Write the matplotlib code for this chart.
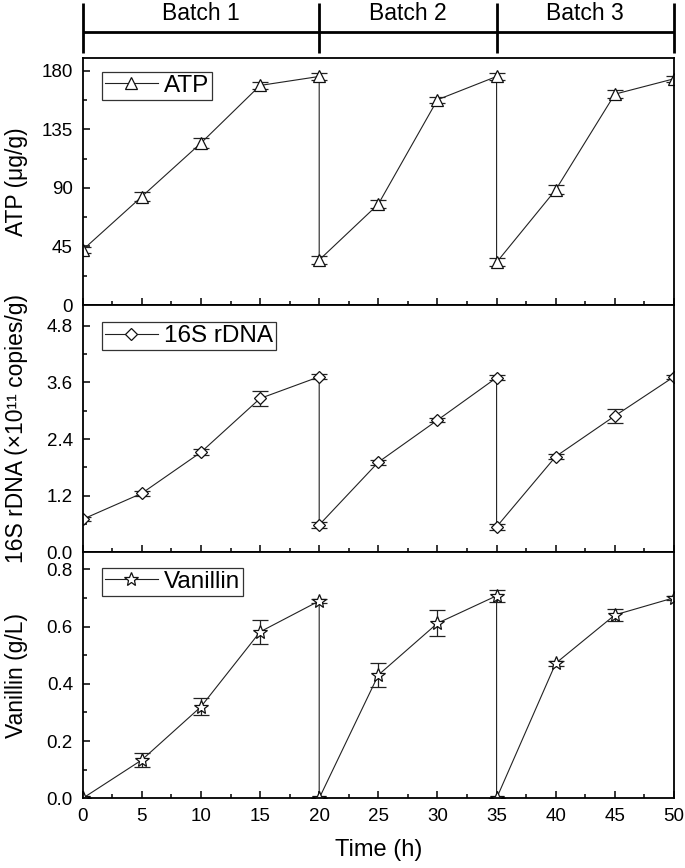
import numpy as np
import matplotlib
matplotlib.use("Agg")
import matplotlib.pyplot as plt
from matplotlib.ticker import MultipleLocator, FormatStrFormatter

plt.rcParams['font.family'] = ['Liberation Sans', 'DejaVu Sans']

# sampling times (h); 20 and 35 appear twice (end of batch / start of next)
time_h = [0, 5, 10, 15, 20, 20, 25, 30, 35, 35, 40, 45, 50]

atp = [42.3, 83.3, 124.4, 168.7, 175.6, 34.6, 77.5, 157.7, 175.6, 32.8, 88.5, 162.0, 173.8]
atp_err = [2.5, 3.5, 4.0, 3.0, 2.5, 3.0, 3.0, 2.5, 2.5, 3.0, 3.5, 3.0, 2.5]

rdna = [0.70, 1.25, 2.12, 3.26, 3.72, 0.58, 1.91, 2.80, 3.70, 0.54, 2.03, 2.89, 3.72]
rdna_err = [0.04, 0.05, 0.06, 0.15, 0.05, 0.06, 0.05, 0.04, 0.05, 0.06, 0.05, 0.14, 0.04]

vanillin = [0.0, 0.134, 0.320, 0.582, 0.690, 0.0, 0.431, 0.612, 0.708, 0.0, 0.472, 0.641, 0.701]
vanillin_err = [0.0, 0.026, 0.029, 0.042, 0.008, 0.0, 0.041, 0.045, 0.020, 0.0, 0.008, 0.020, 0.006]

batch_edges = [0, 20, 35, 50]
batch_names = ['Batch 1', 'Batch 2', 'Batch 3']

fig = plt.figure(figsize=(6.85, 8.68), dpi=100)

left, width = 0.1207, 0.8632
ax1 = fig.add_axes([left, 0.6486, width, 0.2849])
ax2 = fig.add_axes([left, 0.3637, width, 0.2849])
ax3 = fig.add_axes([left, 0.0803, width, 0.2834])
axb = fig.add_axes([left, 0.9386, width, 0.0576])

panels = [
    (ax1, atp, atp_err, '^', 'ATP', 'ATP (μg/g)', 190, 45, '%d', 8, 0.943),
    (ax2, rdna, rdna_err, 'D', '16S rDNA', '16S rDNA (×10¹¹ copies/g)', 5.24, 1.2, '%.1f', 6.5, 0.93),
    (ax3, vanillin, vanillin_err, '*', 'Vanillin', 'Vanillin (g/L)', 0.86, 0.2, '%.1f', 10, 0.937),
]

for ax, y, yerr, mk, name, ylab, ymax, step, fmt, ms, leg_y in panels:
    ax.errorbar(time_h, y, yerr=yerr, fmt='none', ecolor='#222222',
                elinewidth=0.9, capsize=6, capthick=0.9)
    ax.plot(time_h, y, color='#222222', lw=0.8, marker=mk, ms=ms, mfc='white',
            mec='#111111', mew=0.9, label=name)
    ax.set_xlim(0, 50)
    ax.set_ylim(0, ymax)
    ax.yaxis.set_major_locator(MultipleLocator(step))
    ax.yaxis.set_minor_locator(MultipleLocator(step / 2))
    ax.yaxis.set_major_formatter(FormatStrFormatter(fmt))
    ax.xaxis.set_major_locator(MultipleLocator(5))
    ax.xaxis.set_minor_locator(MultipleLocator(2.5))
    ax.tick_params(which='both', direction='in', top=False, right=False,
                   labelsize=13.5, width=1.1, pad=7)
    ax.tick_params(which='major', length=5)
    ax.tick_params(which='minor', length=3)
    for s in ax.spines.values():
        s.set_linewidth(1.3)
    ax.set_ylabel(ylab, fontsize=16.5)
    ax.yaxis.set_label_coords(-0.092, 0.5)
    leg = ax.legend(loc='upper left', bbox_to_anchor=(0.032, leg_y), fontsize=17.5,
                    frameon=True, fancybox=False, edgecolor='black',
                    handlelength=2.2, borderpad=0.12, handletextpad=0.25,
                    borderaxespad=0)
    leg.get_frame().set_linewidth(0.9)

ax1.tick_params(labelbottom=False)
ax2.tick_params(labelbottom=False)
ax3.set_xlabel('Time (h)', fontsize=17, labelpad=10)

# batch indicator bar
axb.set_xlim(0, 50)
axb.set_ylim(0, 1)
axb.axis('off')
axb.hlines(0.43, batch_edges[0], batch_edges[-1], color='black', lw=2, clip_on=False)
axb.vlines(batch_edges, 0, 1, color='black', lw=2, clip_on=False)
for i, nm in enumerate(batch_names):
    axb.text((batch_edges[i] + batch_edges[i + 1]) / 2, 0.8, nm,
             ha='center', va='center', fontsize=16.5)

fig.savefig('out.png', dpi=100)
